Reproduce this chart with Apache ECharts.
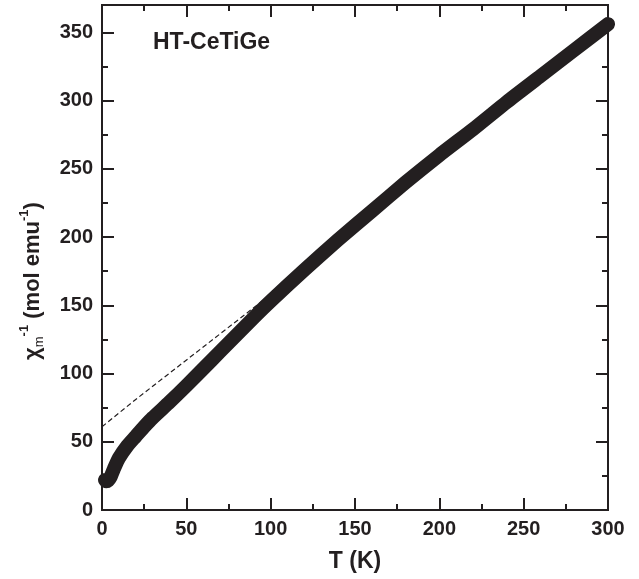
<!DOCTYPE html>
<html>
<head>
<meta charset="utf-8">
<script src="https://cdn.jsdelivr.net/npm/echarts@6/dist/echarts.min.js"></script>
<style>
  html, body { margin: 0; padding: 0; background: #fff; }
  #chart { width: 639px; height: 579px; }
</style>
</head>
<body>
<div id="chart"></div>
<script>
// measured chi^-1 vs T
const temps = [1.8, 2.5, 3.5, 5, 7, 10, 15, 20, 25, 30, 40, 50, 60, 70, 80, 90, 100, 120, 140, 160, 180, 200, 220, 240, 260, 280, 300];
const chiInv = [22, 21, 21.5, 24, 30, 38, 47, 54, 61, 67.5, 79, 91, 103.5, 116, 128.5, 141, 153, 176, 198, 219, 240, 260, 279, 299, 318, 337, 356];

// Curie-Weiss fit (dashed)
const fitT = [0, 20, 96];
const fitChi = [61, 81, 154];

const xMajor = [0, 50, 100, 150, 200, 250, 300];
const xMinor = [25, 75, 125, 175, 225, 275];
const yMajor = [0, 50, 100, 150, 200, 250, 300, 350];
const yMinor = [25, 75, 125, 175, 225, 275, 325];

const ink = '#231f20';
const font = 'Liberation Sans, Arial, sans-serif';

const chart = echarts.init(document.getElementById('chart'));

function axis(pos, ticks, len, labels, max) {
  return {
    type: 'value',
    position: pos,
    min: 0,
    max: max,
    axisLine: { show: true, onZero: false, lineStyle: { color: ink, width: 2 } },
    axisTick: { show: true, inside: true, length: len, customValues: ticks, lineStyle: { color: ink, width: 2 } },
    axisLabel: labels ? {
      show: true, customValues: ticks, margin: 9,
      color: ink, fontFamily: font, fontWeight: 'bold', fontSize: 20
    } : { show: false },
    splitLine: { show: false }
  };
}

const pairs = temps.map((t, i) => [t, chiInv[i]]);
const fitPairs = fitT.map((t, i) => [t, fitChi[i]]);

chart.setOption({
  animation: false,
  grid: { left: 102, right: 31, top: 5, bottom: 69 },
  xAxis: [
    Object.assign(axis('bottom', xMajor, 12, true, 300), {
      name: 'T (K)', nameLocation: 'middle', nameGap: 40,
      nameTextStyle: { color: ink, fontFamily: font, fontWeight: 'bold', fontSize: 23 }
    }),
    axis('bottom', xMinor, 6, false, 300),
    axis('top', xMajor, 12, false, 300),
    axis('top', xMinor, 6, false, 300)
  ],
  yAxis: [
    axis('left', yMajor, 12, true, 370),
    axis('left', yMinor, 6, false, 370),
    axis('right', yMajor, 12, false, 370),
    axis('right', yMinor, 6, false, 370)
  ],
  graphic: [
    {
      type: 'text', left: 153, top: 31,
      style: { text: 'HT-CeTiGe', fill: ink, font: 'bold 23px ' + font }
    },
    {
      type: 'text', x: 33, y: 281, rotation: Math.PI / 2,
      style: {
        text: '{a|χ}{s|m}{p|-1}{a| (mol emu}{p|-1}{a|)}',
        align: 'center', verticalAlign: 'middle', fill: ink,
        rich: {
          a: { fontFamily: font, fontWeight: 'bold', fontSize: 22, lineHeight: 30, verticalAlign: 'middle' },
          s: { fontFamily: font, fontSize: 13, lineHeight: 30, verticalAlign: 'bottom', padding: [0, 0, 2, 0] },
          p: { fontFamily: font, fontWeight: 'bold', fontSize: 13, lineHeight: 30, verticalAlign: 'top' }
        }
      }
    }
  ],
  series: [
    {
      type: 'line',
      data: fitPairs,
      symbol: 'none',
      lineStyle: { color: ink, width: 1.2, type: [5, 3] },
      z: 1
    },
    {
      type: 'line',
      data: pairs,
      smooth: 0.2,
      symbol: 'none',
      lineStyle: { color: ink, width: 14, cap: 'round', join: 'round' },
      z: 2
    }
  ]
});
</script>
</body>
</html>
